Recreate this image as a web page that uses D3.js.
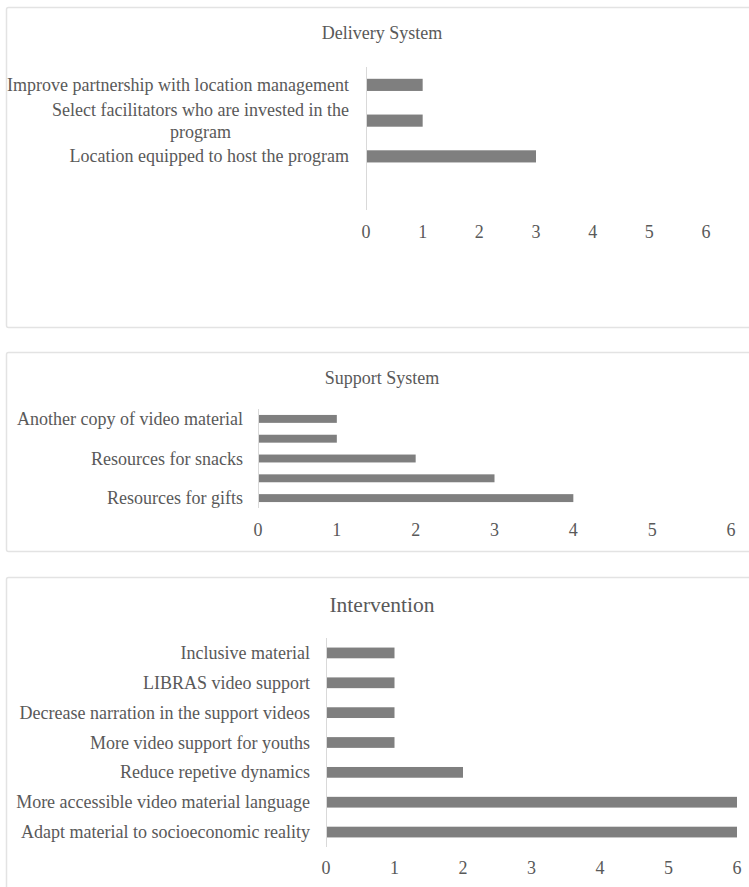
<!DOCTYPE html>
<html><head><meta charset="utf-8">
<script src="https://cdn.jsdelivr.net/npm/d3@7"></script>
<style>
html,body{margin:0;padding:0;background:#fff;}
svg{display:block;}
text{font-family:"Liberation Serif","Times New Roman",serif;fill:#595959;}
</style></head>
<body>
<svg id="chart" width="749" height="887"></svg>
<script>
// ---------- DATA ----------
const deliveryTitle = "Delivery System";
const deliveryCategories = ["Improve partnership with location management", "Select facilitators who are invested in the program", "Location equipped to host the program", ""];
const deliveryValues = [1, 1, 3, null];

const supportTitle = "Support System";
const supportCategories = ["Another copy of video material", "", "Resources for snacks", "", "Resources for gifts"];
const supportValues = [1, 1, 2, 3, 4];

const interventionTitle = "Intervention";
const interventionCategories = ["Inclusive material", "LIBRAS video support", "Decrease narration in the support videos", "More video support for youths", "Reduce repetive dynamics", "More accessible video material language", "Adapt material to socioeconomic reality"];
const interventionValues = [1, 1, 1, 1, 2, 6, 6];

const xTicks = [0, 1, 2, 3, 4, 5, 6];

// ---------- LAYOUT ----------
const panels = [
  {title: deliveryTitle, cats: deliveryCategories, vals: deliveryValues,
   box: [6, 7, 760, 320], titleY: 33, titleSize: 18,
   x0: 366, x1: 706, y0: 67, y1: 210, barFrac: 0.34,
   labelRight: 349, labelSize: 18, labelMaxW: 346, tickY: 232, tickSize: 18},
  {title: supportTitle, cats: supportCategories, vals: supportValues,
   box: [6, 352, 760, 199], titleY: 378, titleSize: 18,
   x0: 258, x1: 731, y0: 409, y1: 508, barFrac: 0.4,
   labelRight: 243, labelSize: 18, labelMaxW: 346, tickY: 530, tickSize: 18},
  {title: interventionTitle, cats: interventionCategories, vals: interventionValues,
   box: [6, 577, 760, 330], titleY: 605, titleSize: 21.5,
   x0: 326, x1: 737, y0: 638, y1: 847, barFrac: 0.36,
   labelRight: 310, labelSize: 18, labelMaxW: 346, tickY: 868, tickSize: 18}
];

const svg = d3.select("#chart");

panels.forEach(p => {
  const g = svg.append("g");
  g.append("rect")
    .attr("x", p.box[0] + 0.5).attr("y", p.box[1] + 0.5)
    .attr("width", p.box[2]).attr("height", p.box[3])
    .attr("rx", 2)
    .attr("fill", "#fff").attr("stroke", "#e3e3e3").attr("stroke-width", 1.5);

  g.append("text")
    .attr("x", 382)
    .attr("y", p.titleY)
    .attr("text-anchor", "middle").attr("dominant-baseline", "central")
    .style("font-size", p.titleSize + "px")
    .text(p.title);

  const x = d3.scaleLinear().domain([0, 6]).range([p.x0, p.x1]);
  const y = d3.scaleBand().domain(d3.range(p.cats.length)).range([p.y0, p.y1]).padding(0);
  const bh = y.bandwidth() * p.barFrac;

  // axis line (vertical)
  g.append("line")
    .attr("x1", x(0) + 0.5).attr("x2", x(0) + 0.5)
    .attr("y1", p.y0).attr("y2", p.y1)
    .attr("stroke", "#d9d9d9").attr("stroke-width", 1);

  // bars
  g.selectAll("rect.bar").data(p.vals.map((v, i) => ({v, i})).filter(d => d.v != null))
    .enter().append("rect").attr("class", "bar")
    .attr("x", x(0) + 1)
    .attr("y", d => y(d.i) + y.bandwidth() / 2 - bh / 2)
    .attr("width", d => x(d.v) - x(0) - 1)
    .attr("height", bh)
    .attr("fill", "#7f7f7f");

  // x tick labels
  g.selectAll("text.tick").data(xTicks).enter().append("text").attr("class", "tick")
    .attr("x", d => x(d)).attr("y", p.tickY)
    .attr("text-anchor", "middle").attr("dominant-baseline", "central")
    .style("font-size", p.tickSize + "px")
    .text(d => d);

  // category labels with wrapping
  p.cats.forEach((c, i) => {
    if (!c) return;
    const cy = y(i) + y.bandwidth() / 2;
    const t = g.append("text").style("font-size", p.labelSize + "px")
      .attr("dominant-baseline", "central");
    const words = c.split(" ");
    const lines = [];
    let line = [];
    const probe = g.append("text").style("font-size", p.labelSize + "px");
    words.forEach(w => {
      line.push(w);
      probe.text(line.join(" "));
      if (probe.node().getComputedTextLength() > p.labelMaxW && line.length > 1) {
        line.pop();
        lines.push(line.join(" "));
        line = [w];
      }
    });
    lines.push(line.join(" "));
    let maxW = 0;
    lines.forEach(l => { probe.text(l); maxW = Math.max(maxW, probe.node().getComputedTextLength()); });
    probe.remove();
    const lh = 22;
    const cx = lines.length > 1 ? p.labelRight - maxW / 2 : p.labelRight;
    t.attr("text-anchor", lines.length > 1 ? "middle" : "end");
    lines.forEach((l, k) => {
      t.append("tspan")
        .attr("x", cx)
        .attr("y", cy + (k - (lines.length - 1) / 2) * lh)
        .text(l);
    });
  });
});
</script>
</body></html>
